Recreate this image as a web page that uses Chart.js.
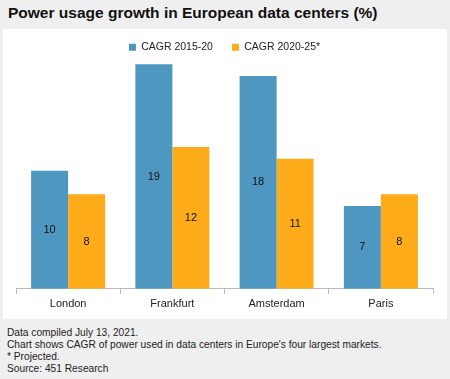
<!DOCTYPE html>
<html>
<head>
<meta charset="utf-8">
<script src="https://cdn.jsdelivr.net/npm/chart.js@4"></script>
<style>
  html, body { margin: 0; padding: 0; }
  body { width: 450px; height: 379px; background: #efefef; position: relative; overflow: hidden; font-family: "Liberation Sans", Arial, sans-serif; }
  #title { position: absolute; left: 8px; top: 4px; font-size: 15.5px; font-weight: bold; color: #111; white-space: nowrap; }
  #panel { position: absolute; left: 3px; top: 29px; width: 444px; height: 290px; background: #fff; }
  #footer { position: absolute; left: 7px; top: 327px; font-size: 10.2px; line-height: 12px; color: #222; white-space: nowrap; }
</style>
</head>
<body>
<div id="title">Power usage growth in European data centers (%)</div>
<div id="panel"><canvas id="c" width="444" height="290"></canvas></div>
<div id="footer">Data compiled July 13, 2021.<br>Chart shows CAGR of power used in data centers in Europe's four largest markets.<br>* Projected.<br>Source: 451 Research</div>
<script>
const categories = ["London", "Frankfurt", "Amsterdam", "Paris"];
const seriesNames = ["CAGR 2015-20", "CAGR 2020-25*"];
const cagr2015_20 = [10, 19, 18, 7];
const cagr2020_25 = [8, 12, 11, 8];
const colors = ["#4e97c1", "#fdab18"];

const barLabels = {
  id: 'barLabels',
  afterDatasetsDraw(chart) {
    const ctx = chart.ctx;
    ctx.save();
    ctx.font = '11px "Liberation Sans", Arial, sans-serif';
    ctx.fillStyle = '#111';
    ctx.textAlign = 'center';
    ctx.textBaseline = 'middle';
    chart.data.datasets.forEach((ds, i) => {
      chart.getDatasetMeta(i).data.forEach((bar, j) => {
        const p = bar.getProps(['x', 'y', 'base'], true);
        ctx.fillText(String(ds.data[j]), p.x, (p.y + p.base) / 2);
      });
    });
    ctx.restore();
  }
};

new Chart(document.getElementById('c'), {
  type: 'bar',
  data: {
    labels: categories,
    datasets: [
      { label: seriesNames[0], data: cagr2015_20, backgroundColor: colors[0] },
      { label: seriesNames[1], data: cagr2020_25, backgroundColor: colors[1] }
    ]
  },
  options: {
    responsive: false,
    animation: false,
    devicePixelRatio: 1,
    layout: { padding: { left: 13, right: 14, top: -6, bottom: 4 } },
    datasets: { bar: { categoryPercentage: 0.71, barPercentage: 1.0 } },
    plugins: {
      legend: {
        position: 'top',
        labels: {
          boxWidth: 7, boxHeight: 7, padding: 19,
          color: '#222',
          font: { size: 10.5, family: '"Liberation Sans", Arial, sans-serif' },
          generateLabels(chart) {
            const items = Chart.defaults.plugins.legend.labels.generateLabels(chart);
            items.forEach(it => { it.lineWidth = 0; });
            return items;
          }
        }
      },
      tooltip: { enabled: false }
    },
    scales: {
      x: {
        grid: { drawOnChartArea: false, drawTicks: true, tickLength: 5, color: '#bbbbbb', offset: true },
        border: { color: '#bbbbbb' },
        ticks: { color: '#222', padding: 4, font: { size: 11, family: '"Liberation Sans", Arial, sans-serif' } }
      },
      y: { display: false, min: 0, max: 19.15 }
    }
  },
  plugins: [barLabels]
});
</script>
</body>
</html>
